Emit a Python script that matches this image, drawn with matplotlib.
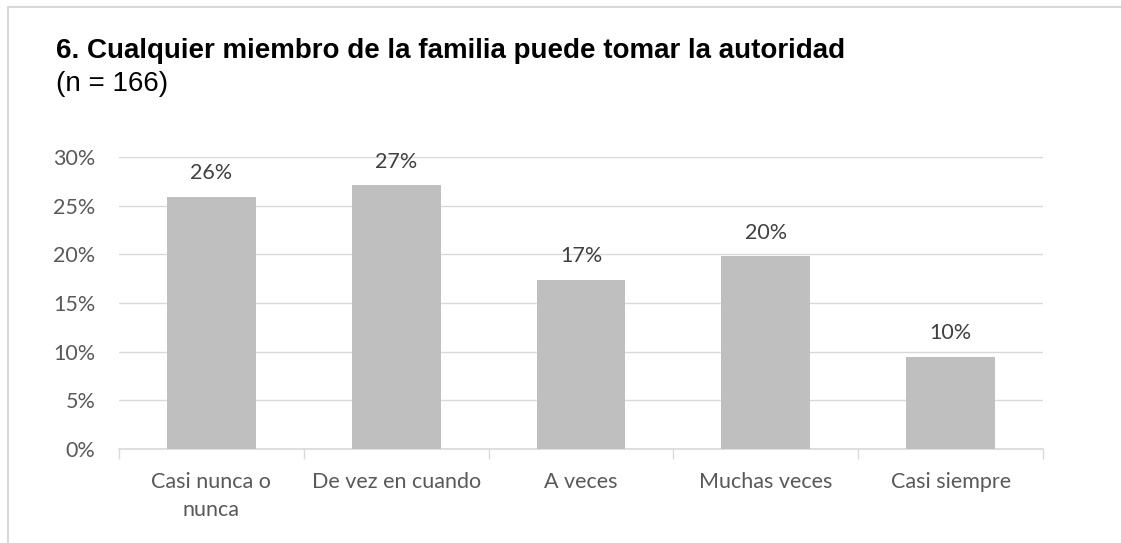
import matplotlib
matplotlib.use("Agg")
import matplotlib.pyplot as plt
from matplotlib.patches import Rectangle
from matplotlib.ticker import PercentFormatter, FixedLocator

# Response shares (n = 166)
categories = ["Casi nunca o\nnunca", "De vez en cuando", "A veces", "Muchas veces", "Casi siempre"]
values = [25.9, 27.1, 17.4, 19.8, 9.5]
labels = ["26%", "27%", "17%", "20%", "10%"]

fig = plt.figure(figsize=(11.21, 5.43), dpi=100)
ax = fig.add_axes([119 / 1121, 1 - 449 / 543, (1043 - 119) / 1121, (449 - 157) / 543])

# light frame around the chart area
fig.add_artist(Rectangle((8 / 1121, -0.05), 1.2, 1 - 7 / 543 + 0.05, transform=fig.transFigure,
                         fill=False, edgecolor="#d9d9d9", linewidth=1.5))

x = range(len(categories))
bars = ax.bar(x, values, width=0.48, color="#bfbfbf", zorder=3)
for b, lab in zip(bars, labels):
    ax.text(b.get_x() + b.get_width() / 2, b.get_height() + 1.4, lab, ha="center", va="bottom",
            fontsize=15.5, color="#404040", family="Lato")

ax.set_xlim(-0.5, len(categories) - 0.5)
ax.set_ylim(0, 30)
ax.set_yticks(range(0, 31, 5))
ax.yaxis.set_major_formatter(PercentFormatter(decimals=0))
ax.grid(axis="y", color="#d9d9d9", linewidth=1, zorder=0)

ax.set_xticks(list(x))
ax.set_xticklabels(categories, fontsize=15.5, color="#595959", family="Lato", linespacing=1.5)
ax.xaxis.set_minor_locator(FixedLocator([i - 0.5 for i in range(len(categories) + 1)]))
ax.tick_params(axis="x", which="major", length=0, pad=16.5)
ax.tick_params(axis="x", which="minor", length=7, color="#d9d9d9", width=1)
ax.tick_params(axis="y", length=0, pad=17, labelsize=15.5, labelcolor="#595959")
for t in ax.get_yticklabels():
    t.set_family("Lato")

for s in ["top", "right", "left"]:
    ax.spines[s].set_visible(False)
ax.spines["bottom"].set_color("#d9d9d9")
ax.spines["bottom"].set_linewidth(1.2)

fig.text(56 / 1121, 1 - 58 / 543, "6. Cualquier miembro de la familia puede tomar la autoridad",
         fontsize=20, fontweight="bold", family="Liberation Sans", va="baseline")
fig.text(56 / 1121, 1 - 91 / 543, "(n = 166)", fontsize=20, family="Liberation Sans", va="baseline")

fig.savefig("out.png", dpi=100)
